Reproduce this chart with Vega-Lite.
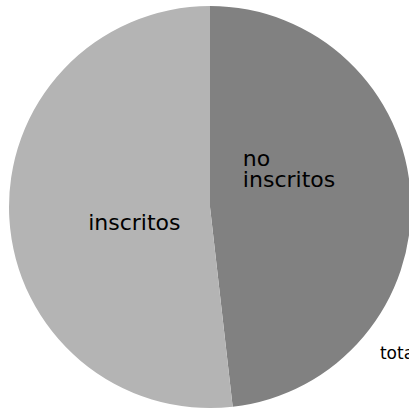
{
  "$schema": "https://vega.github.io/schema/vega-lite/v6.json",
  "width": 420,
  "height": 414,
  "padding": 0,
  "autosize": {"type": "none"},
  "background": "white",
  "config": {"view": {"stroke": null}},
  "layer": [
    {
      "data": {"values": [
        {"grupo": "no inscritos", "valor": 48.2, "orden": 1},
        {"grupo": "inscritos", "valor": 51.8, "orden": 2}
      ]},
      "layer": [
        {
          "mark": {"type": "arc", "outerRadius": 201},
          "encoding": {
            "theta": {"field": "valor", "type": "quantitative", "stack": true},
            "order": {"field": "orden", "type": "quantitative"},
            "color": {"field": "grupo", "type": "nominal",
              "scale": {"domain": ["no inscritos", "inscritos"], "range": ["#818181", "#b4b4b4"]},
              "legend": null}
          }
        },
        {
          "transform": [{"filter": "datum.grupo == 'no inscritos'"}],
          "mark": {"type": "text", "radius": 80, "align": "left", "baseline": "alphabetic", "dx": -47, "dy": -36, "lineBreak": " ", "lineHeight": 21, "font": "DejaVu Sans", "fontSize": 22, "color": "black"},
          "encoding": {
            "theta": {"datum": 24.1, "type": "quantitative"},
            "text": {"field": "grupo"}
          }
        },
        {
          "transform": [{"filter": "datum.grupo == 'inscritos'"}],
          "mark": {"type": "text", "radius": 80, "align": "left", "baseline": "alphabetic", "dx": -42, "dy": 18, "font": "DejaVu Sans", "fontSize": 22, "color": "black"},
          "encoding": {
            "theta": {"datum": 74.1, "type": "quantitative"},
            "text": {"field": "grupo"}
          }
        }
      ]
    },
    {
      "data": {"values": [{"nota": "total"}]},
      "mark": {"type": "text", "align": "left", "baseline": "alphabetic", "font": "DejaVu Sans", "fontSize": 17, "color": "black"},
      "encoding": {
        "theta": {"value": 2.3005},
        "radius": {"value": 228},
        "text": {"field": "nota"}
      }
    }
  ]
}
